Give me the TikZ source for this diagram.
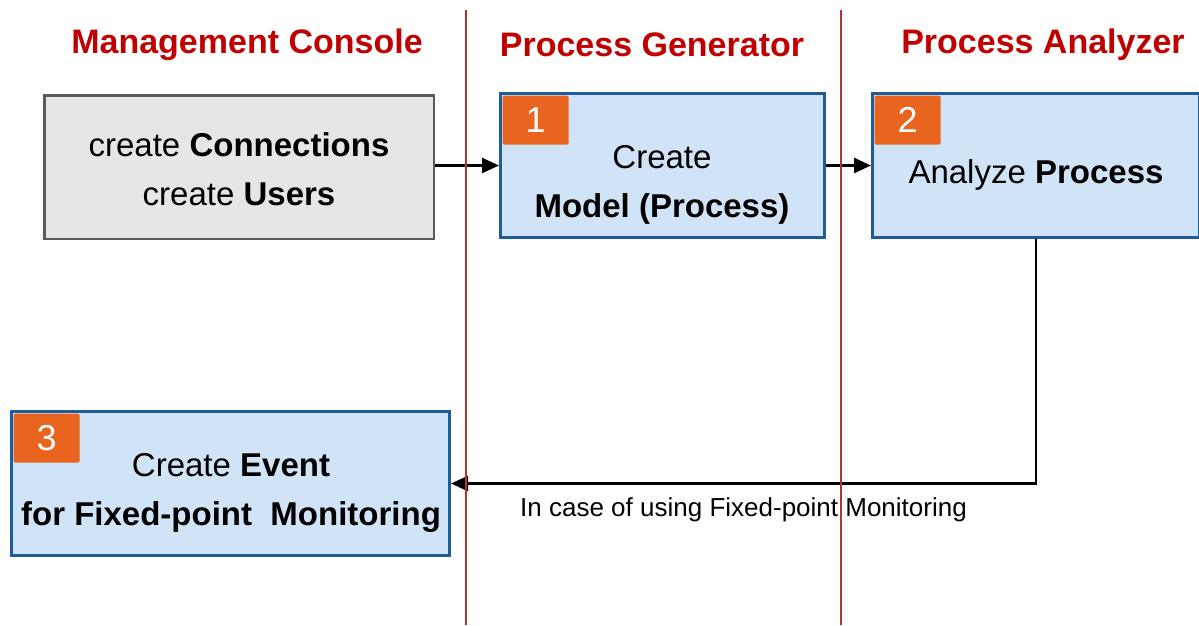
\documentclass[tikz,border=0pt]{standalone}
\usepackage{fontspec}
\setmainfont{Liberation Sans}
\usetikzlibrary{arrows.meta,positioning,calc}
\definecolor{headred}{RGB}{192,0,0}
\definecolor{lanered}{RGB}{178,52,52}
\definecolor{boxblue}{RGB}{31,92,153}
\definecolor{boxfill}{RGB}{209,228,247}
\definecolor{grayedge}{RGB}{90,90,90}
\definecolor{grayfill}{RGB}{230,230,230}
\definecolor{badgeorange}{RGB}{233,100,30}

\begin{document}
\begin{tikzpicture}[
      x=1pt, y=-1pt,
      head/.style={font=\fontsize{34}{40}\selectfont\bfseries, text=headred},
      box/.style={rectangle, draw=boxblue, fill=boxfill, line width=3pt, inner sep=0pt},
      graybox/.style={rectangle, draw=grayedge, fill=grayfill, line width=2.5pt, inner sep=0pt},
      badge/.style={rectangle, fill=badgeorange, rounded corners=2pt, anchor=north west, minimum width=66pt, minimum height=49pt, inner sep=0pt, text=white, font=\fontsize{36}{36}\selectfont},
      txt/.style={align=center, font=\fontsize{33}{49}\selectfont},
      arrow/.style={-{Triangle[length=17pt,width=15pt]}, line width=2.5pt},
      lane/.style={draw=lanered, line width=2.5pt}
    ]
      \useasboundingbox (0,0) rectangle (1199,625);

      % column titles
      \node[head] (h_mc) at (247,45) {Management Console};
      \node[head] (h_pg) at (652,45) {Process Generator};
      \node[head] (h_pa) at (1043,45) {Process Analyzer};

      % boxes
      \node[graybox, minimum width=389.5pt, minimum height=143.5pt] (mc) at (239,167) {};
      \node[box, minimum width=324pt, minimum height=144pt] (m1) at (662.5,165.5) {};
      \node[box, minimum width=327pt, minimum height=144pt] (m2) at (1036,165.5) {};
      \node[box, minimum width=438pt, minimum height=144pt] (m3) at (230.5,483.5) {};

      \node[txt] (mc_t) at (239,169) {create \textbf{Connections}\\create \textbf{Users}};
      \node[txt] (m1_t) at (662,185) {Create\\\textbf{Model (Process)}};
      \node[txt] (m2_t) at (1036,175) {Analyze \textbf{Process}};
      \node[txt] (m3_t) at (231,493) {Create \textbf{Event}\\\textbf{for Fixed-point\ \ Monitoring}};

      \node[badge] (b1) at ([xshift=3.5pt, yshift=-3.5pt]m1.north west) {1};
      \node[badge] (b2) at ([xshift=3.5pt, yshift=-3.5pt]m2.north west) {2};
      \node[badge] (b3) at ([xshift=3.5pt, yshift=-3.5pt]m3.north west) {3};

      % flow
      \draw[arrow] (mc.east |- m1.west) -- (m1.west);
      \draw[arrow] (m1.east) -- (m2.west);
      \draw[arrow] (m2.south) |- node[pos=0.75, below=10pt, font=\fontsize{26}{30}\selectfont] (cond) {In case of using Fixed-point Monitoring} (m3.east);

      % lanes
      \draw[lane] (466,10) -- (466,625);
      \draw[lane] (841,10) -- (841,625);
    \end{tikzpicture}
\end{document}
